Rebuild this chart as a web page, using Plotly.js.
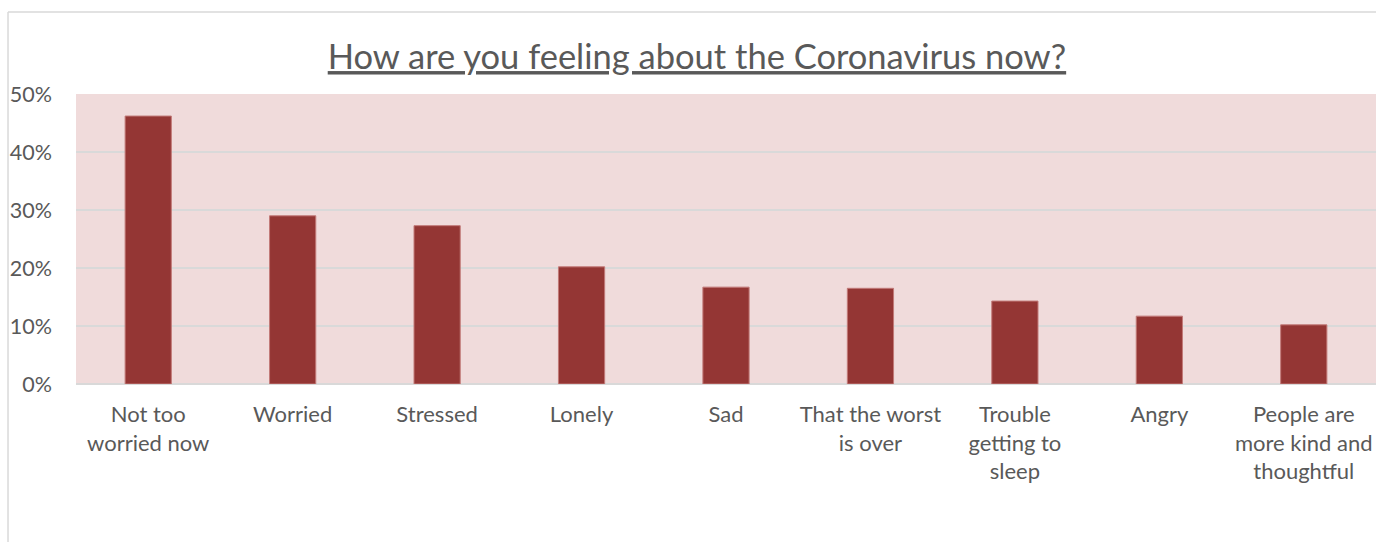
<!DOCTYPE html>
<html>
<head>
<meta charset="utf-8">
<script src="https://cdn.plot.ly/plotly-3.0.1.min.js"></script>
<style>
  html, body { margin: 0; padding: 0; background: #ffffff; }
  #chart { width: 1376px; height: 542px; }
</style>
</head>
<body>
<div id="chart"></div>
<script>
const categories = [
  "Not too<br>worried now",
  "Worried",
  "Stressed",
  "Lonely",
  "Sad",
  "That the worst<br>is over",
  "Trouble<br>getting to<br>sleep",
  "Angry",
  "People are<br>more kind and<br>thoughtful"
];
const values = [0.462, 0.29, 0.273, 0.202, 0.167, 0.165, 0.143, 0.117, 0.102];
const titleText = "How are you feeling about the Coronavirus now?";

const FONT = "Lato, 'Open Sans', sans-serif";
const trace = {
  type: "bar",
  x: categories,
  y: values,
  marker: { color: "#943634", line: { color: "#c27a78", width: 1 } },
  hoverinfo: "x+y"
};

const layout = {
  width: 1376,
  height: 542,
  margin: { l: 76, r: 0, t: 94, b: 158, pad: 0 },
  paper_bgcolor: "#ffffff",
  plot_bgcolor: "#f0dbdb",
  bargap: 0.68,
  showlegend: false,
  font: { family: FONT, color: "#595959", size: 22 },
  title: {
    text: "<u>" + titleText + "</u>",
    font: { family: FONT, size: 34.5, color: "#595959" },
    xref: "container", x: 0.5065, xanchor: "center",
    yref: "container", y: 1 - 57/542, yanchor: "middle"
  },
  xaxis: {
    type: "category",
    showgrid: false,
    showline: false,
    zeroline: false,
    ticks: "",
    tickfont: { family: FONT, size: 22, color: "#595959" },
    ticklabelstandoff: 15
  },
  yaxis: {
    range: [0, 0.5],
    dtick: 0.1,
    tickformat: ".0%",
    showgrid: true,
    gridcolor: "#d9d9d9",
    gridwidth: 1.5,
    zeroline: true,
    zerolinecolor: "#d9d9d9",
    zerolinewidth: 1.5,
    showline: false,
    ticks: "",
    tickfont: { family: FONT, size: 21.5, color: "#595959" },
    ticklabelstandoff: 23
  },
  shapes: [
    { type: "line", xref: "paper", yref: "paper", x0: -0.0523, x1: -0.0523, y0: -0.6, y1: 1.2828,
      line: { color: "#d9d9d9", width: 1.5 } },
    { type: "line", xref: "paper", yref: "paper", x0: -0.0523, x1: 1.1, y0: 1.2828, y1: 1.2828,
      line: { color: "#d9d9d9", width: 1.5 } }
  ]
};

Plotly.newPlot("chart", [trace], layout, { displayModeBar: false, responsive: false });
</script>
</body>
</html>
